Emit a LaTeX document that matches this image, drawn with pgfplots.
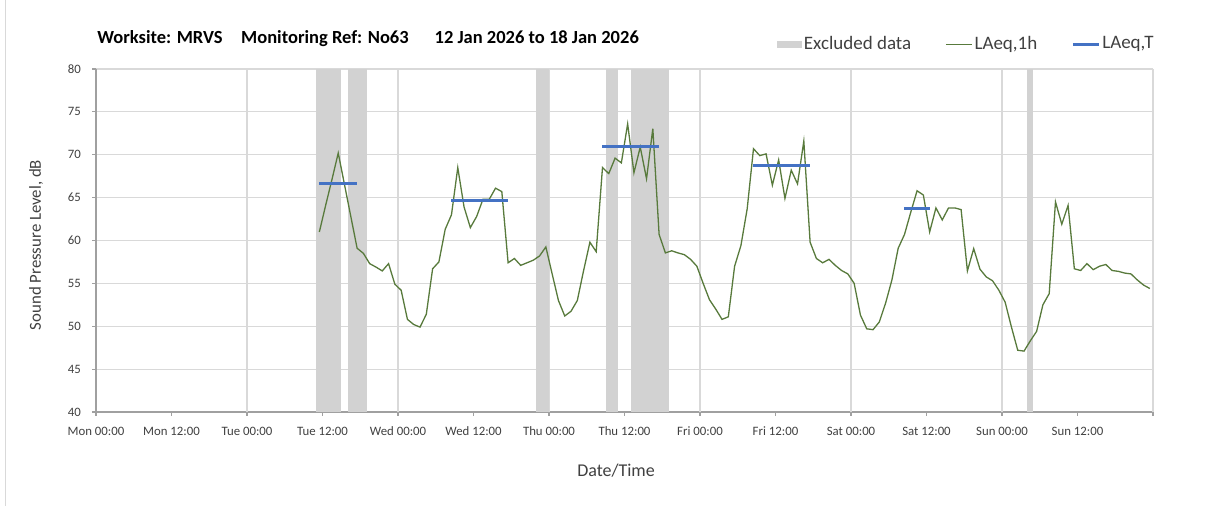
\documentclass[border=0pt]{standalone}
\usepackage{fontspec}
\setmainfont{Carlito}
\usepackage{pgfplots}
\pgfplotsset{compat=1.18}

\definecolor{lgreen}{RGB}{88,122,60}
\definecolor{lblue}{RGB}{68,114,196}
\definecolor{exgray}{RGB}{210,210,210}
\definecolor{gridgray}{RGB}{217,217,217}
\definecolor{axgray}{RGB}{160,160,160}
\definecolor{txtgray}{RGB}{64,64,64}

\begin{document}
\begin{tikzpicture}
\path[use as bounding box] (0,0) rectangle (604pt,253pt);
\draw[gridgray, line width=0.6pt] (2.7pt,0) -- (2.7pt,253pt);

\begin{axis}[
  at={(48pt,47pt)}, anchor=south west,
  scale only axis, width=528.5pt, height=171.5pt,
  xmin=0, xmax=168, ymin=40, ymax=80,
  axis lines*=left,
  axis line style={axgray, line width=0.7pt},
  xtick={0,12,...,168},
  xticklabels={Mon 00:00,Mon 12:00,Tue 00:00,Tue 12:00,Wed 00:00,Wed 12:00,Thu 00:00,Thu 12:00,Fri 00:00,Fri 12:00,Sat 00:00,Sat 12:00,Sun 00:00,Sun 12:00,},
  extra x ticks={24,48,...,168},
  extra x tick labels={},
  extra x tick style={grid=major, major tick length=0pt},
  ytick={40,45,...,80},
  ymajorgrids,
  grid style={gridgray, line width=0.6pt},
  tick align=outside, major tick length=2pt,
  tick style={axgray, line width=0.6pt},
  xtick pos=left, ytick pos=left,
  /pgf/number format/assume math mode=true,
  ticklabel style={font=\fontsize{6.4}{7}\selectfont, text=txtgray},
  xticklabel style={yshift=-2pt},
  yticklabel style={xshift=-2pt},
  legend columns=3,
  legend style={at={(rel axis cs:0.644,1.072)}, anchor=west, draw=none, fill=none,
    inner sep=0pt, font=\fontsize{9.5}{11}\selectfont, text=txtgray,
    /tikz/every even column/.append style={column sep=16pt},
    nodes={inner sep=1pt}},
  legend cell align=left,
]
% excluded periods
\addplot[fill=exgray, draw=none, forget plot] coordinates {(35,40) (35,80) (39,80) (39,40)} -- cycle;
\addplot[fill=exgray, draw=none, forget plot] coordinates {(40,40) (40,80) (43,80) (43,40)} -- cycle;
\addplot[fill=exgray, draw=none, forget plot] coordinates {(70,40) (70,80) (72,80) (72,40)} -- cycle;
\addplot[fill=exgray, draw=none, forget plot] coordinates {(81,40) (81,80) (83,80) (83,40)} -- cycle;
\addplot[fill=exgray, draw=none, forget plot] coordinates {(85,40) (85,80) (91,80) (91,40)} -- cycle;
\addplot[fill=exgray, draw=none, forget plot] coordinates {(148,40) (148,80) (149,80) (149,40)} -- cycle;

\addlegendimage{legend image code/.code={\fill[exgray] (0pt,-1.5pt) rectangle (12pt,1.5pt);}}
\addlegendentry{Excluded data}

% hourly LAeq
\addplot[lgreen, line width=0.65pt,
  legend image code/.code={\draw[lgreen, line width=0.65pt] (0pt,0pt) -- (13pt,0pt);}]
table {
h v
35.5 61.0
36.5 64.1
37.5 67.1
38.5 70.2
39.5 66.5
40.5 62.8
41.5 59.1
42.5 58.5
43.5 57.3
44.5 56.9
45.5 56.45
46.5 57.3
47.5 54.9
48.5 54.2
49.5 50.8
50.5 50.2
51.5 49.9
52.5 51.4
53.5 56.7
54.5 57.5
55.5 61.3
56.5 63.0
57.5 68.5
58.5 63.9
59.5 61.5
60.5 62.8
61.5 64.8
62.5 64.8
63.5 66.1
64.5 65.7
65.5 57.4
66.5 57.9
67.5 57.1
68.5 57.4
69.5 57.7
70.5 58.2
71.5 59.25
72.5 56.1
73.5 53.0
74.5 51.2
75.5 51.75
76.5 53.0
77.5 56.5
78.5 59.8
79.5 58.7
80.5 68.5
81.5 67.8
82.5 69.6
83.5 69.05
84.5 73.6
85.5 67.9
86.5 70.9
87.5 67.2
88.5 73.05
89.5 60.7
90.5 58.55
91.5 58.8
92.5 58.55
93.5 58.35
94.5 57.8
95.5 57.0
96.5 55.0
97.5 53.1
98.5 52.0
99.5 50.8
100.5 51.1
101.5 57.0
102.5 59.4
103.5 63.7
104.5 70.7
105.5 69.9
106.5 70.1
107.5 66.45
108.5 69.4
109.5 64.9
110.5 68.2
111.5 66.6
112.5 71.6
113.5 59.8
114.5 57.9
115.5 57.4
116.5 57.8
117.5 57.1
118.5 56.5
119.5 56.1
120.5 55.0
121.5 51.3
122.5 49.7
123.5 49.6
124.5 50.5
125.5 52.7
126.5 55.4
127.5 59.1
128.5 60.7
129.5 63.3
130.5 65.8
131.5 65.3
132.5 61.0
133.5 63.8
134.5 62.4
135.5 63.8
136.5 63.8
137.5 63.6
138.5 56.45
139.5 59.05
140.5 56.65
141.5 55.75
142.5 55.3
143.5 54.2
144.5 52.8
145.5 49.9
146.5 47.2
147.5 47.1
148.5 48.3
149.5 49.4
150.5 52.5
151.5 53.8
152.5 64.5
153.5 61.9
154.5 64.1
155.5 56.7
156.5 56.5
157.5 57.3
158.5 56.6
159.5 57.0
160.5 57.2
161.5 56.5
162.5 56.4
163.5 56.2
164.5 56.1
165.5 55.4
166.5 54.8
167.5 54.4
};
\addlegendentry{LAeq,1h}

% period LAeq,T
\addplot[lblue, line width=1.5pt,
  legend image code/.code={\draw[lblue, line width=1.5pt] (0pt,0pt) -- (13pt,0pt);}]
  coordinates {(35.5,66.7) (41.5,66.7)};
\addlegendentry{LAeq,T}
\addplot[lblue, line width=1.5pt, forget plot] coordinates {(56.5,64.7) (65.5,64.7)};
\addplot[lblue, line width=1.5pt, forget plot] coordinates {(80.5,71.0) (89.5,71.0)};
\addplot[lblue, line width=1.5pt, forget plot] coordinates {(104.5,68.8) (113.5,68.8)};
\addplot[lblue, line width=1.5pt, forget plot] coordinates {(128.5,63.7) (132.5,63.7)};
\end{axis}

\node[anchor=west, inner sep=0pt, font=\bfseries\fontsize{9.25}{11}\selectfont] at (48.5pt,233.8pt)
  {Worksite: MRVS\hspace{1em}Monitoring Ref: No63\hspace{1.4em}12 Jan 2026 to 18 Jan 2026};
\node[rotate=90, font=\fontsize{8.4}{10}\selectfont, text=txtgray] at (18pt,130.5pt) {Sound Pressure Level, dB};
\node[font=\fontsize{9}{10}\selectfont, text=txtgray] at (308pt,17.5pt) {Date/Time};
\end{tikzpicture}
\end{document}
